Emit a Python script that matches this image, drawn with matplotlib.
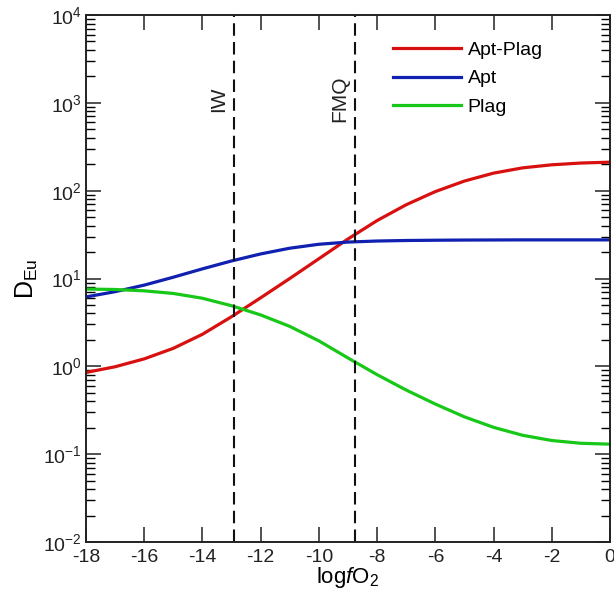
import matplotlib
matplotlib.use("Agg")
import matplotlib.pyplot as plt
import numpy as np
from matplotlib.ticker import LogLocator, MultipleLocator, NullFormatter

plt.rcParams['font.family'] = ['Liberation Sans', 'DejaVu Sans']
plt.rcParams['mathtext.fontset'] = 'custom'
plt.rcParams['mathtext.rm'] = 'Liberation Sans'
plt.rcParams['mathtext.it'] = 'Liberation Sans:italic'
plt.rcParams['axes.unicode_minus'] = False

# log fO2 values and partition coefficients
log_fo2 = [-18, -17, -16, -15, -14, -13, -12, -11, -10, -9,
           -8, -7, -6, -5, -4, -3, -2, -1, 0]
d_apt_plag = [0.851, 0.989, 1.216, 1.603, 2.317, 3.673, 6.03, 10.0, 16.8, 28.2,
              45.7, 69.2, 97.7, 128.8, 158.5, 182.0, 197.2, 206.5, 211.3]
d_apt = [6.17, 7.08, 8.41, 10.35, 12.88, 15.85, 19.05, 22.13, 24.55, 26.0,
         26.73, 27.1, 27.29, 27.42, 27.48, 27.54, 27.54, 27.54, 27.54]
d_plag = [7.59, 7.50, 7.24, 6.76, 5.96, 4.90, 3.85, 2.85, 1.95, 1.245,
          0.804, 0.537, 0.372, 0.266, 0.202, 0.164, 0.143, 0.133, 0.130]

buffers = ['IW', 'FMQ']
buffer_x = [-12.9, -8.75]

series = [('Apt-Plag', d_apt_plag, '#d81010'),
          ('Apt', d_apt, '#1020b0'),
          ('Plag', d_plag, '#18c818')]

fig = plt.figure(figsize=(6.14, 6.02), dpi=100)
ax = fig.add_axes([0.140, 0.0997, 0.8535, 0.8753])

for name, vals, col in series:
    ax.plot(log_fo2, vals, lw=2.3, color=col, label=name)

for name, xb in zip(buffers, buffer_x):
    ax.axvline(xb, color='#111111', lw=1.5, dashes=(6, 3))
    ax.text(xb - 0.22, 1.1e3, name, rotation=90, ha='right', va='center',
            fontsize=15, color='#222222')

ax.set_yscale('log')
ax.set_xlim(-18, 0)
ax.set_ylim(1e-2, 1e4)
ax.xaxis.set_major_locator(MultipleLocator(2))
ax.yaxis.set_major_locator(LogLocator(base=10, numticks=10))
ax.yaxis.set_minor_locator(LogLocator(base=10, subs=np.arange(2, 10), numticks=10))
ax.yaxis.set_minor_formatter(NullFormatter())

ax.tick_params(which='major', direction='in', length=11, width=1.1,
               top=True, right=True, labelsize=14, colors='#222222')
ax.tick_params(which='minor', direction='in', length=6.5, width=1.0,
               top=False, right=True)
ax.tick_params(axis='x', pad=5)
ax.tick_params(axis='y', pad=3)
for s in ax.spines.values():
    s.set_linewidth(1.4)
    s.set_color('#222222')

ax.set_xlabel(r'log$\it{f}$O$_2$', fontsize=16, labelpad=-1)
ax.set_ylabel(r'D$_{\rm Eu}$', fontsize=18, labelpad=2)

ax.legend(loc='upper left', bbox_to_anchor=(0.552, 0.983), frameon=False,
          fontsize=14, handlelength=3.5, handletextpad=0.36, labelspacing=0.55)

fig.savefig('out.png', dpi=100)
